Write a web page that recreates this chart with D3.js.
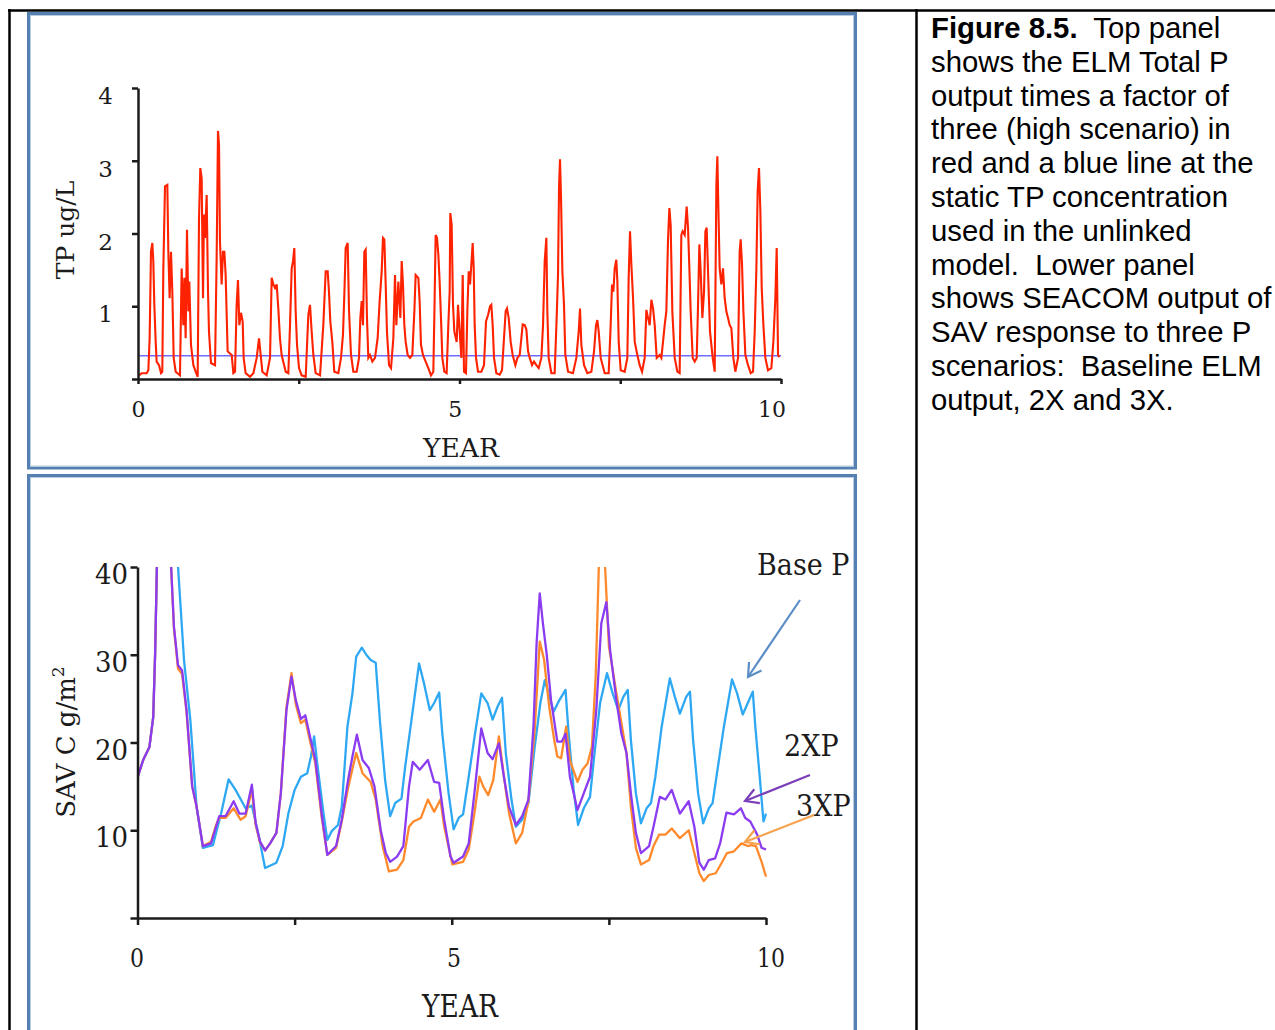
<!DOCTYPE html>
<html>
<head>
<meta charset="utf-8">
<script src="https://cdn.jsdelivr.net/npm/d3@7"></script>
<style>
  body { margin: 0; background: #ffffff; }
  svg { display: block; }
</style>
</head>
<body>
<svg id="fig" width="1275" height="1030"></svg>
<script>
// ---------- Top panel: ELM total P (x3) ----------
const tpYears = [0.016,0.057,0.135,0.161,0.181,0.202,0.223,0.238,0.254,0.275,0.29,0.327,0.358,0.378,0.394,0.42,0.456,0.472,0.492,0.513,0.534,0.555,0.586,0.653,0.679,0.705,0.721,0.741,0.762,0.783,0.798,0.824,0.861,0.897,0.928,0.949,0.969,0.99,1.011,1.026,1.042,1.068,1.089,1.104,1.135,1.198,1.223,1.244,1.26,1.275,1.301,1.322,1.343,1.363,1.394,1.431,1.457,1.483,1.509,1.534,1.555,1.576,1.602,1.628,1.643,1.674,1.742,1.794,1.846,1.882,1.908,1.934,2.001,2.053,2.079,2.105,2.131,2.157,2.182,2.208,2.234,2.297,2.338,2.364,2.39,2.411,2.431,2.452,2.473,2.504,2.545,2.608,2.649,2.675,2.701,2.727,2.763,2.831,2.882,2.919,2.95,2.97,2.991,3.022,3.053,3.116,3.157,3.188,3.209,3.23,3.261,3.282,3.313,3.349,3.401,3.437,3.458,3.479,3.499,3.52,3.541,3.561,3.582,3.608,3.644,3.686,3.727,3.758,3.79,3.81,3.831,3.852,3.872,3.904,3.935,3.971,3.997,4.018,4.049,4.08,4.101,4.121,4.142,4.163,4.194,4.23,4.266,4.298,4.318,4.339,4.36,4.38,4.401,4.432,4.474,4.515,4.557,4.593,4.609,4.629,4.65,4.671,4.691,4.712,4.733,4.764,4.8,4.826,4.847,4.857,4.878,4.899,4.92,4.956,4.977,5.003,5.029,5.05,5.07,5.101,5.122,5.143,5.164,5.184,5.205,5.221,5.236,5.257,5.288,5.34,5.381,5.412,5.444,5.475,5.495,5.516,5.537,5.573,5.625,5.661,5.692,5.718,5.739,5.765,5.796,5.827,5.869,5.9,5.936,5.962,5.983,6.014,6.04,6.066,6.092,6.128,6.159,6.195,6.232,6.273,6.299,6.325,6.351,6.366,6.387,6.429,6.48,6.511,6.532,6.548,6.563,6.579,6.6,6.625,6.646,6.688,6.765,6.817,6.854,6.874,6.895,6.937,6.988,7.051,7.092,7.123,7.144,7.165,7.196,7.258,7.32,7.351,7.372,7.393,7.414,7.439,7.455,7.476,7.507,7.569,7.61,7.631,7.652,7.673,7.699,7.725,7.766,7.802,7.839,7.88,7.906,7.932,7.958,7.984,8.01,8.036,8.067,8.113,8.139,8.165,8.191,8.217,8.243,8.264,8.284,8.31,8.347,8.388,8.424,8.45,8.471,8.502,8.533,8.554,8.575,8.595,8.627,8.658,8.689,8.71,8.73,8.751,8.777,8.803,8.824,8.844,8.865,8.896,8.938,8.969,8.995,9.01,9.026,9.046,9.072,9.098,9.124,9.15,9.176,9.202,9.228,9.259,9.29,9.332,9.357,9.373,9.394,9.415,9.446,9.487,9.529,9.565,9.591,9.617,9.637,9.658,9.679,9.7,9.726,9.757,9.798,9.85,9.881,9.912,9.933,9.954,9.975];
const tpValues = [0.05,0.08,0.08,0.12,0.56,1.75,1.87,1.62,1.02,0.51,0.24,0.19,0.08,0.10,1.52,2.65,2.67,1.75,1.11,1.75,1.20,0.29,0.10,0.05,1.52,0.74,1.39,0.56,2.05,0.93,1.34,0.47,0.19,0.10,0.03,2.21,2.90,2.76,1.11,2.26,1.94,2.53,1.20,0.65,0.22,0.19,1.66,3.41,3.22,1.89,1.30,1.75,1.75,1.43,0.38,0.35,0.33,0.08,0.10,1.02,1.36,0.74,0.91,0.79,0.29,0.08,0.03,0.08,0.29,0.56,0.33,0.10,0.05,0.29,1.39,1.30,1.25,1.30,0.97,0.56,0.33,0.10,0.08,0.74,1.52,1.62,1.80,0.93,0.47,0.15,0.05,0.03,0.88,1.02,0.65,0.33,0.08,0.05,0.74,1.48,1.48,1.20,0.79,0.51,0.10,0.08,0.29,0.61,1.16,1.80,1.87,0.93,0.33,0.10,0.10,0.29,0.84,1.07,0.74,1.75,1.78,0.84,0.29,0.33,0.24,0.29,0.56,1.07,1.48,1.94,1.92,1.30,0.65,0.19,0.15,0.56,1.43,0.74,1.34,0.84,1.62,1.30,0.74,0.51,0.33,0.29,0.33,0.93,1.43,1.41,1.39,1.07,0.47,0.33,0.24,0.15,0.05,0.10,0.88,1.98,1.94,1.71,1.34,0.84,0.29,0.10,0.08,0.74,1.20,2.28,2.12,1.02,0.65,0.51,1.02,0.65,0.29,1.43,0.10,0.08,0.93,1.48,1.30,1.57,1.87,1.52,0.74,0.29,0.10,0.10,0.19,0.79,0.88,1.00,1.02,0.74,0.29,0.08,0.06,0.12,0.56,0.93,0.97,0.84,0.51,0.33,0.19,0.29,0.33,0.56,0.75,0.74,0.68,0.38,0.29,0.19,0.24,0.19,0.15,0.29,0.74,1.62,1.94,0.93,0.29,0.08,0.08,0.84,1.43,2.63,3.02,2.49,1.48,1.02,0.33,0.10,0.08,0.29,0.65,0.97,0.47,0.19,0.08,0.10,0.38,0.74,0.81,0.65,0.29,0.08,0.08,0.74,1.30,1.20,1.52,1.64,1.34,0.51,0.12,0.10,0.29,1.39,2.03,1.57,1.11,0.51,0.33,0.19,0.10,0.29,0.95,0.84,0.74,1.09,0.97,0.74,0.29,0.33,0.29,0.51,0.74,0.93,1.92,2.35,2.12,0.93,0.29,0.10,0.08,1.98,2.03,1.98,2.37,2.08,1.52,0.93,0.29,0.24,0.29,1.02,1.85,1.48,0.84,1.20,2.03,2.08,1.48,0.65,0.29,0.10,2.67,3.06,2.35,1.52,1.30,1.52,1.11,0.93,0.84,0.74,0.70,0.29,0.10,0.29,1.75,1.92,1.57,0.93,0.33,0.19,0.08,0.10,0.65,1.52,2.58,2.90,2.31,1.25,0.74,0.29,0.12,0.15,0.51,1.11,1.80,0.33,0.30];
const staticTP = 0.32;           // fixed concentration of the unlinked model
const tpTicks = [0, 1, 2, 3, 4];
const tpTickLabels = ["", "1", "2", "3", "4"];

// ---------- Shared time axis ----------
const yearTicks = [0, 2.5, 5, 7.5, 10];
const yearLabelValues = [0, 5, 10];
const yearLabels = ["0", "5", "10"];

// ---------- Lower panel: SEACOM SAV carbon ----------
const baseYears  = [0,0.09,0.19,0.25,0.28,0.31,0.40,0.55,0.645,0.74,0.84,0.94,1.04,1.2,1.33,1.45,1.56,1.72,1.82,1.92,2.03,2.21,2.31,2.4,2.5,2.6,2.7,2.76,2.81,2.86,2.96,3.02,3.09,3.19,3.25,3.34,3.42,3.48,3.57,3.64,3.71,3.79,3.86,3.94,4.02,4.1,4.2,4.26,4.36,4.48,4.56,4.65,4.72,4.8,4.85,4.95,5.03,5.11,5.18,5.27,5.37,5.47,5.57,5.65,5.73,5.8,5.86,5.95,6.02,6.12,6.22,6.32,6.41,6.48,6.54,6.62,6.71,6.81,6.86,6.94,7.01,7.1,7.2,7.26,7.36,7.47,7.56,7.65,7.73,7.8,7.85,7.93,8.01,8.1,8.17,8.24,8.34,8.47,8.55,8.63,8.73,8.79,8.84,8.92,9.0,9.09,9.15,9.22,9.33,9.46,9.54,9.63,9.71,9.79,9.83,9.9,9.96,10.0];
const baseValues = [16.0,18.0,19.5,22.9,30.0,40.5,52,50,40.0,29.4,22.6,12.7,8.0,8.3,11.9,15.8,14.6,12.5,12.8,9.7,5.7,6.3,8.2,11.9,14.6,16.1,16.5,18.4,20.7,17.6,11.9,8.9,9.9,10.6,12.7,21.8,25.6,29.8,30.8,30.0,29.4,29.1,22.2,15.7,11.6,13.1,13.6,17.3,22.6,29.0,26.7,23.7,24.5,25.7,21.0,14.2,10.1,11.4,11.8,16.1,21.0,25.6,24.5,22.6,24.1,25.1,18.8,13.5,10.4,11.2,13.1,19.5,24.5,27.1,25.6,23.5,24.8,26.0,21.0,14.6,10.6,12.5,13.8,18.0,24.5,27.9,25.6,23.7,25.2,26.0,20.3,14.2,10.8,12.5,13.1,16.1,21.8,27.3,25.2,23.3,25.2,25.8,20.3,14.2,10.8,12.5,13.1,16.5,21.8,27.2,25.6,23.2,24.5,25.8,21.8,16.1,11.0,11.9];

const x2Years  = [0,0.09,0.19,0.25,0.28,0.31,0.40,0.5,0.53,0.58,0.645,0.71,0.78,0.87,0.94,1.04,1.17,1.25,1.3,1.4,1.53,1.62,1.72,1.82,1.88,1.95,2.03,2.11,2.21,2.28,2.37,2.45,2.52,2.6,2.67,2.75,2.83,2.93,3.02,3.16,3.25,3.35,3.42,3.49,3.58,3.68,3.77,3.87,3.95,4.02,4.13,4.23,4.32,4.38,4.49,4.62,4.72,4.8,4.88,4.98,5.03,5.18,5.27,5.36,5.47,5.57,5.65,5.75,5.83,5.91,6.02,6.12,6.22,6.3,6.35,6.4,6.45,6.51,6.58,6.68,6.75,6.81,6.88,7.0,7.1,7.2,7.3,7.38,7.46,7.52,7.62,7.7,7.78,7.85,7.93,8.01,8.14,8.21,8.31,8.4,8.5,8.63,8.77,8.86,8.94,9.01,9.09,9.19,9.27,9.37,9.49,9.6,9.67,9.75,9.86,9.93,10.0];
const x2Values = [16.0,18.0,19.5,22.9,30.0,40.5,52,45,40.8,33.2,28.8,28.2,23.7,15.0,12.7,8.2,8.5,10.4,11.6,11.6,13.3,11.9,11.9,15.2,10.8,8.7,7.7,8.5,9.7,14.2,23.7,27.5,24.8,22.7,23.1,20.5,18.0,11.9,7.2,8.2,11.2,15.7,18.4,20.9,18.0,17.1,15.0,10.0,7.4,6.4,7.0,8.2,15.0,17.8,16.9,18.0,15.5,15.4,11.2,7.0,6.3,7.0,8.5,14.2,21.6,18.8,18.1,19.9,16.1,12.7,10.6,11.6,13.5,21.8,31.3,37.0,33.6,30.1,24.8,20.1,20.1,21.0,16.1,12.3,14.2,16.1,23.7,33.6,36.0,30.5,24.8,21.0,18.8,14.2,9.7,7.4,8.2,10.4,13.8,13.5,14.6,11.9,13.3,10.4,6.3,5.5,6.6,6.8,8.5,12.0,11.8,12.5,11.4,11.0,9.5,8.0,7.8];

const x3Years  = [0,0.09,0.19,0.25,0.28,0.31,0.40,0.5,0.53,0.58,0.645,0.71,0.78,0.87,0.94,1.04,1.17,1.25,1.3,1.4,1.53,1.64,1.72,1.82,1.88,1.95,2.03,2.11,2.21,2.28,2.37,2.45,2.52,2.6,2.67,2.75,2.83,2.93,3.02,3.16,3.25,3.35,3.42,3.48,3.58,3.71,3.79,3.9,4.0,4.13,4.23,4.32,4.39,4.51,4.62,4.72,4.82,4.88,5.01,5.18,5.27,5.36,5.44,5.5,5.58,5.66,5.75,5.83,5.91,6.02,6.12,6.22,6.32,6.4,6.47,6.55,6.63,6.68,6.74,6.82,6.88,7.0,7.08,7.16,7.23,7.29,7.34,7.39,7.44,7.5,7.62,7.78,7.85,7.93,8.01,8.14,8.21,8.3,8.4,8.5,8.63,8.77,8.86,8.94,9.01,9.09,9.2,9.28,9.38,9.49,9.61,9.71,9.77,9.84,9.93,10.0];
const x3Values = [16.0,18.0,19.5,22.9,30.0,40.5,52,45,40.8,33.0,28.4,27.8,23.5,15.0,12.7,8.2,8.7,10.6,11.4,11.4,12.5,11.2,11.6,14.6,10.6,8.6,7.7,8.5,9.7,14.2,24.0,27.9,24.3,22.2,22.6,20.0,17.6,11.5,7.2,8.0,11.0,14.8,17.0,18.8,16.5,15.5,13.5,8.2,5.3,5.5,6.6,10.4,11.0,11.4,13.5,12.1,13.5,10.4,6.1,6.4,7.8,11.9,16.1,15.0,14.0,15.7,20.7,16.1,12.0,8.5,9.7,13.3,21.5,31.5,29.4,24.1,20.3,18.4,18.2,21.8,18.0,15.5,16.9,17.6,19.5,27.5,40,45,40,31,25.6,18.8,12.7,8.0,6.1,6.6,8.2,9.5,9.5,10.2,9.1,10.0,7.4,5.1,4.2,4.9,5.1,6.1,7.4,7.6,8.5,8.2,8.3,8.2,6.4,4.7];

const savTicks = [0, 10, 20, 30, 40];
const savTickLabels = ["", "10", "20", "30", "40"];

const captionLines = [
  ["Figure 8.5.", "  Top panel"],
  ["", "shows the ELM Total P"],
  ["", "output times a factor of"],
  ["", "three (high scenario) in"],
  ["", "red and a blue line at the"],
  ["", "static TP concentration"],
  ["", "used in the unlinked"],
  ["", "model.  Lower panel"],
  ["", "shows SEACOM output of"],
  ["", "SAV response to three P"],
  ["", "scenarios:  Baseline ELM"],
  ["", "output, 2X and 3X."]
];

// ---------- drawing ----------
const svg = d3.select("#fig");
const SERIF = "'DejaVu Serif', serif";
const INK = "#1b1b1b";

// page frame
svg.append("line").attr("x1", 8).attr("x2", 1275).attr("y1", 10.5).attr("y2", 10.5)
  .attr("stroke", "#000").attr("stroke-width", 2.5);
svg.append("line").attr("x1", 9.5).attr("x2", 9.5).attr("y1", 9).attr("y2", 1030)
  .attr("stroke", "#000").attr("stroke-width", 2.5);
svg.append("line").attr("x1", 916.5).attr("x2", 916.5).attr("y1", 9).attr("y2", 1030)
  .attr("stroke", "#000").attr("stroke-width", 2.5);

// chart panels
function panelBox(y, h) {
  svg.append("rect").attr("x", 28.5).attr("y", y).attr("width", 827).attr("height", h)
    .attr("fill", "none").attr("stroke", "#5480b2").attr("stroke-width", 3);
  svg.append("rect").attr("x", 30.5).attr("y", y + 2).attr("width", 823).attr("height", h - 4)
    .attr("fill", "none").attr("stroke", "#b9cbe0").attr("stroke-width", 1);
}
panelBox(13.5, 454.5);
panelBox(475.5, 570);

// text helper with optional stretch
function stext(parent, x, y, str, o) {
  o = o || {};
  const t = parent.append("text")
    .attr("transform", `translate(${x},${y}) rotate(${o.rot || 0}) scale(${o.sx || 1},${o.sy || 1})`)
    .attr("font-family", o.family || SERIF)
    .attr("font-size", o.size || 20)
    .attr("font-weight", o.weight || "normal")
    .attr("fill", o.fill || INK)
    .attr("text-anchor", o.anchor || "start")
    .text(str);
  return t;
}

// ---- top chart ----
const xTop = d3.scaleLinear().domain([0, 10]).range([138, 781]);
const xTopLabel = d3.scaleLinear().domain([0, 10]).range([138.5, 772]);
const yTop = d3.scaleLinear().domain([0, 4]).range([379, 88]);
const gTop = svg.append("g");

gTop.append("line")
  .attr("x1", xTop(0)).attr("x2", xTop(10))
  .attr("y1", yTop(staticTP)).attr("y2", yTop(staticTP))
  .attr("stroke", "#6f6cff").attr("stroke-width", 1.6);

const tpLine = d3.line().x(d => xTop(d[0])).y(d => yTop(d[1]));
gTop.append("path")
  .datum(d3.zip(tpYears, tpValues))
  .attr("d", tpLine)
  .attr("fill", "none").attr("stroke", "#ff2200").attr("stroke-width", 2.1)
  .attr("stroke-linejoin", "miter");

const axTopY = gTop.append("g").attr("transform", `translate(${xTop(0)},0)`)
  .call(d3.axisLeft(yTop).tickValues(tpTicks).tickSize(6).tickSizeOuter(0).tickFormat(""));
const axTopX = gTop.append("g").attr("transform", `translate(0,${yTop(0)})`)
  .call(d3.axisBottom(xTop).tickValues(yearTicks).tickSize(5).tickSizeOuter(0).tickFormat(""));
[axTopY, axTopX].forEach(a => {
  a.selectAll("path,line").attr("stroke", INK).attr("stroke-width", 2.5);
});

tpTicks.forEach((v, i) => {
  if (tpTickLabels[i]) stext(gTop, 113, yTop(v) + 16, tpTickLabels[i], { size: 23, anchor: "end" });
});
yearLabelValues.forEach((v, i) => {
  stext(gTop, xTopLabel(v), 417, yearLabels[i], { size: 22, anchor: "middle" });
});
stext(gTop, 461, 457, "YEAR", { size: 26.5, anchor: "middle" });
stext(gTop, 74, 230, "TP ug/L", { size: 25, anchor: "middle", rot: -90 });

// ---- bottom chart ----
const xBot = d3.scaleLinear().domain([0, 10]).range([137.5, 766]);
const xBotLabel = d3.scaleLinear().domain([0, 10]).range([137, 771]);
const yBot = d3.scaleLinear().domain([0, 40]).range([918, 567]);
const gBot = svg.append("g");

svg.append("clipPath").attr("id", "savClip")
  .append("rect").attr("x", xBot(0)).attr("y", yBot(40)).attr("width", xBot(10) - xBot(0) + 4)
  .attr("height", yBot(0) - yBot(40));

const savLine = d3.line().x(d => xBot(d[0])).y(d => yBot(d[1]));
const savSeries = [
  { years: baseYears, values: baseValues, color: "#2ea8f2" },
  { years: x3Years,   values: x3Values,   color: "#ff8a2c" },
  { years: x2Years,   values: x2Values,   color: "#8b3cf0" }
];
const gLines = gBot.append("g").attr("clip-path", "url(#savClip)");
savSeries.forEach(s => {
  gLines.append("path")
    .datum(d3.zip(s.years, s.values))
    .attr("d", savLine)
    .attr("fill", "none").attr("stroke", s.color).attr("stroke-width", 2.3)
    .attr("stroke-linejoin", "round");
});

const axBotY = gBot.append("g").attr("transform", `translate(${xBot(0)},0)`)
  .call(d3.axisLeft(yBot).tickValues(savTicks).tickSize(7).tickSizeOuter(0).tickFormat(""));
const axBotX = gBot.append("g").attr("transform", `translate(0,${yBot(0)})`)
  .call(d3.axisBottom(xBot).tickValues(yearTicks).tickSize(7).tickSizeOuter(0).tickFormat(""));
[axBotY, axBotX].forEach(a => {
  a.selectAll("path,line").attr("stroke", INK).attr("stroke-width", 2.5);
});

savTicks.forEach((v, i) => {
  if (savTickLabels[i]) stext(gBot, 128, yBot(v) + 17, savTickLabels[i], { size: 26, anchor: "end", sy: 1.08 });
});
yearLabelValues.forEach((v, i) => {
  stext(gBot, xBotLabel(v), 967, yearLabels[i], { size: 22, anchor: "middle", sy: 1.22 });
});
stext(gBot, 460, 1017, "YEAR", { size: 26.5, anchor: "middle", sy: 1.22 });

// rotated y title with superscript
const savTitle = gBot.append("text")
  .attr("transform", "translate(75,742) rotate(-90)")
  .attr("font-family", SERIF).attr("font-size", 26).attr("fill", INK)
  .attr("text-anchor", "middle");
savTitle.append("tspan").text("SAV C g/m");
savTitle.append("tspan").attr("font-size", 17).attr("dy", -11).text("2");

// scenario call-outs
function arrow(x1, y1, x2, y2, color) {
  const a = Math.atan2(y2 - y1, x2 - x1), L = 15, w = Math.PI / 6;
  gBot.append("line").attr("x1", x1).attr("y1", y1).attr("x2", x2).attr("y2", y2)
    .attr("stroke", color).attr("stroke-width", 2.2);
  const p = [[x2 - L * Math.cos(a - w), y2 - L * Math.sin(a - w)], [x2, y2],
             [x2 - L * Math.cos(a + w), y2 - L * Math.sin(a + w)]];
  gBot.append("path").attr("d", d3.line()(p)).attr("fill", "none")
    .attr("stroke", color).attr("stroke-width", 2.2).attr("stroke-linejoin", "miter");
}
stext(gBot, 757, 575, "Base P", { size: 27, sy: 1.1 });
arrow(800, 600, 748, 677, "#5b8ec6");
stext(gBot, 784, 756, "2XP", { size: 27, sy: 1.1 });
arrow(810, 775, 745, 801, "#7b3fb8");
stext(gBot, 796, 816, "3XP", { size: 27, sy: 1.1 });
arrow(814, 815, 745, 842, "#f6a24e");

// ---- caption ----
const cap = svg.append("g");
captionLines.forEach((ln, i) => {
  const t = cap.append("text")
    .attr("x", 931).attr("y", 38 + i * 33.8)
    .attr("font-family", "'Liberation Sans', Arial, sans-serif")
    .attr("font-size", 29.3).attr("fill", "#000");
  if (ln[0]) t.append("tspan").attr("font-weight", "bold").text(ln[0]);
  t.append("tspan").attr("xml:space", "preserve").style("white-space", "pre").text(ln[1]);
});
</script>
</body>
</html>
